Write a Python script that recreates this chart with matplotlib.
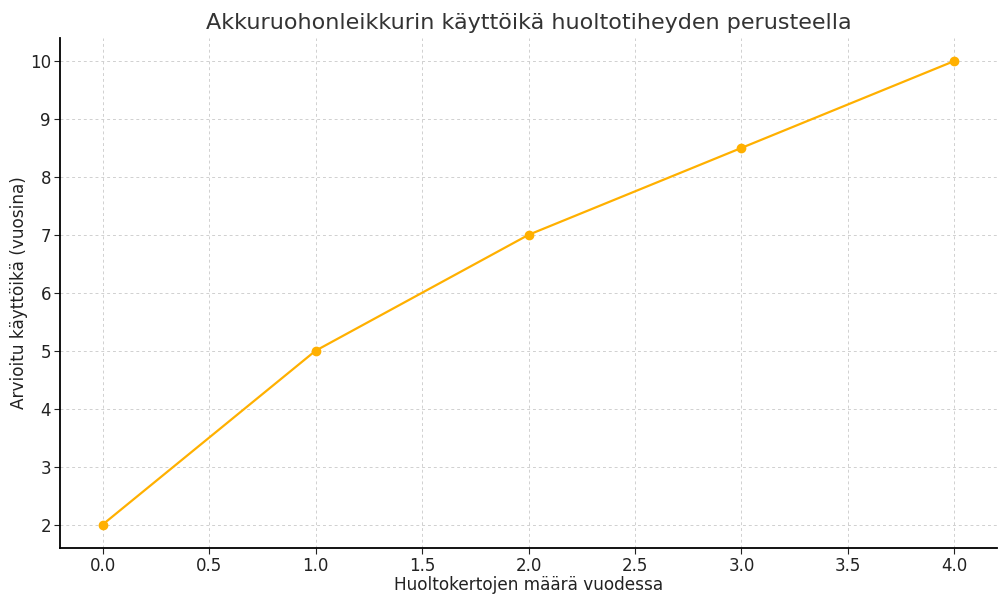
import matplotlib
matplotlib.use("Agg")
import matplotlib.pyplot as plt

huoltokerrat = [0, 1, 2, 3, 4]
kayttoika = [2, 5, 7, 8.5, 10]

fig, ax = plt.subplots(figsize=(10, 6), dpi=100)
fig.subplots_adjust(left=0.06, right=0.997, top=0.937, bottom=0.087)

ax.plot(huoltokerrat, kayttoika, color="#FFB000", marker="o", markersize=6, linewidth=1.6)

ax.set_title("Akkuruohonleikkurin käyttöikä huoltotiheyden perusteella", fontsize=16, color="#333333")
ax.set_xlabel("Huoltokertojen määrä vuodessa", fontsize=12.2, color="#222222", labelpad=1)
ax.set_ylabel("Arvioitu käyttöikä (vuosina)", fontsize=12.2, color="#222222", labelpad=1)

ax.set_xticks([0.0, 0.5, 1.0, 1.5, 2.0, 2.5, 3.0, 3.5, 4.0])
ax.set_yticks([2, 3, 4, 5, 6, 7, 8, 9, 10])
ax.tick_params(labelsize=12, length=4, pad=2.5, colors="#222222")
ax.set_xlim(-0.2, 4.2)
ax.set_ylim(1.6, 10.4)

ax.grid(True, linestyle=(0, (3, 3)), color="#d0d0d0", linewidth=0.7)
ax.spines["top"].set_visible(False)
ax.spines["right"].set_visible(False)
ax.spines["left"].set_linewidth(1.3)
ax.spines["bottom"].set_linewidth(1.3)

fig.savefig("out.png", dpi=100)
